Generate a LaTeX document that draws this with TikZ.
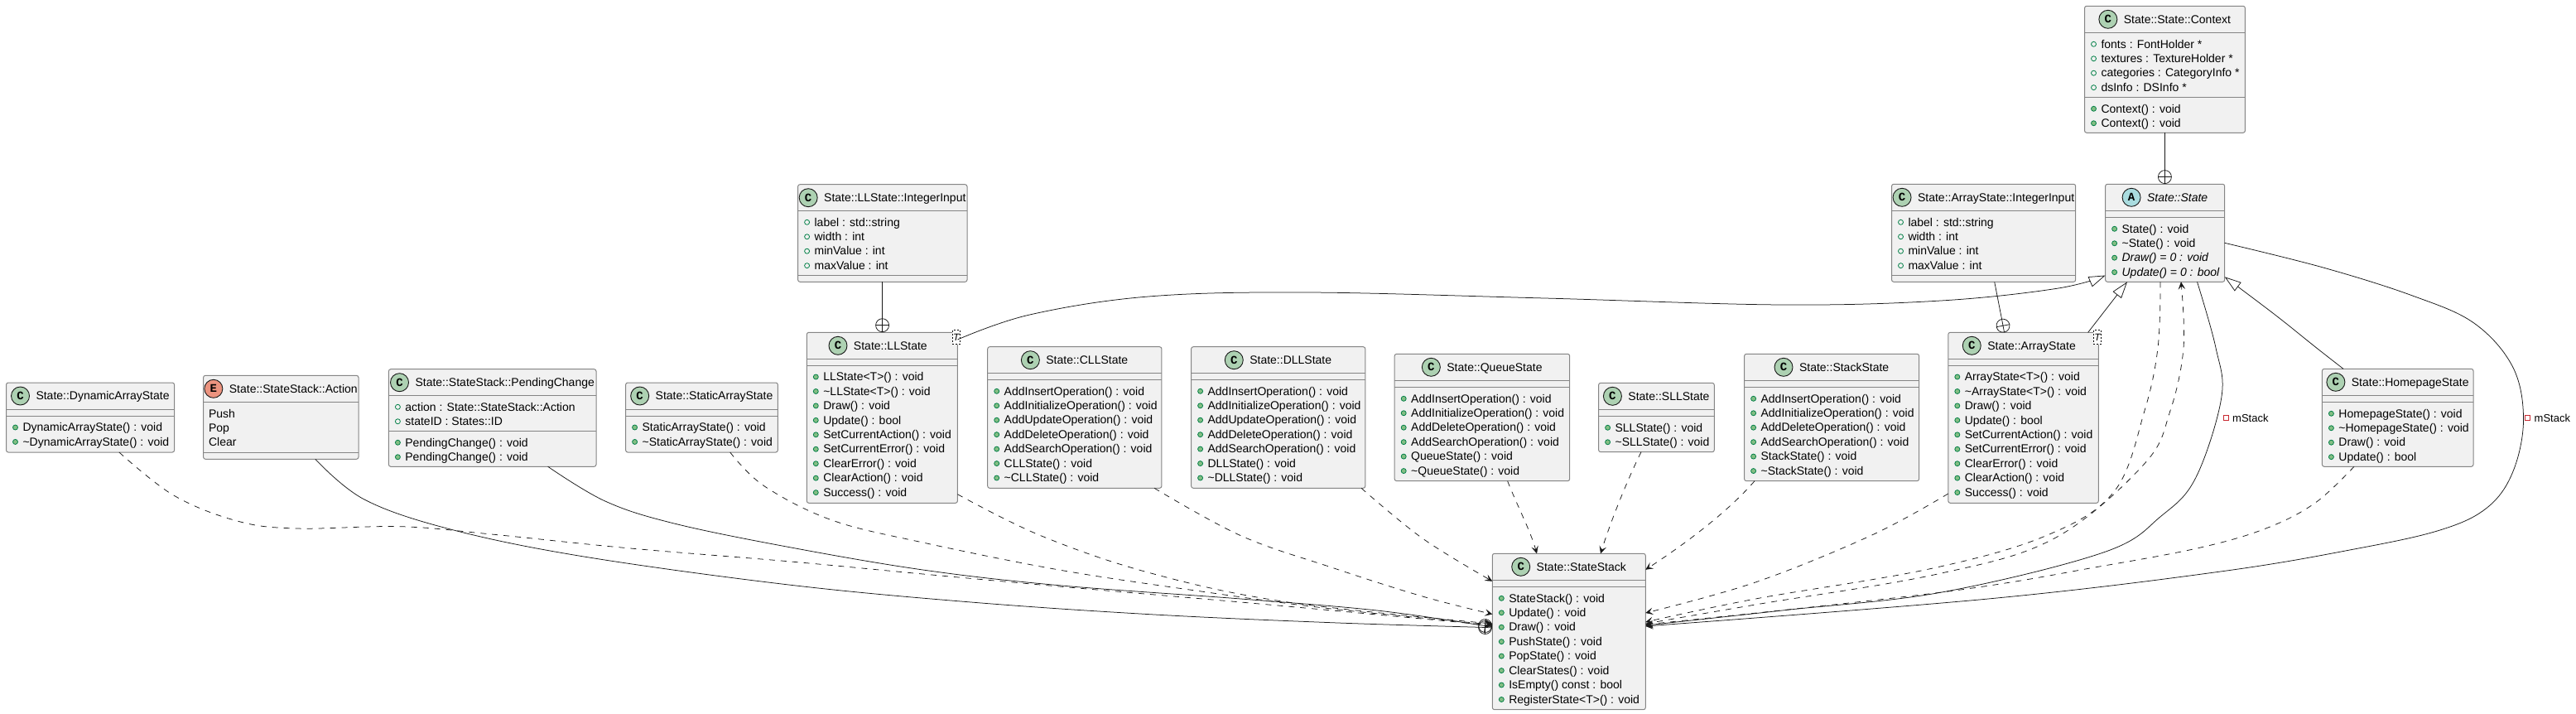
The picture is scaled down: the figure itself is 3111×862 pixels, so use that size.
\documentclass[tikz,border=0pt]{standalone}
\usepackage{fontspec}
\setmainfont{Liberation Sans}
\newfontfamily\spotfont{Liberation Mono}[BoldFont={* Bold}]
\usetikzlibrary{calc,arrows.meta,shapes.misc}
\definecolor{boxfill}{HTML}{F1F1F1}
\definecolor{boxline}{HTML}{858585}
\definecolor{ink}{HTML}{181818}
\definecolor{spotc}{HTML}{ADD1B2}
\definecolor{spota}{HTML}{A9DCDF}
\definecolor{spote}{HTML}{EB937F}
\definecolor{dotg}{HTML}{84BE84}
\definecolor{dotb}{HTML}{038048}
\definecolor{privr}{HTML}{C82930}
\newcommand{\rowfont}{\fontsize{14}{16}\selectfont}
\tikzset{
  classbox/.style={draw=boxline,fill=boxfill,line width=1pt,rounded corners=2.5pt,inner sep=0pt,outer sep=0pt},
  titletext/.style={inner sep=0pt,outer sep=0pt,font=\rowfont,text=black},
  rowtext/.style={inner sep=0pt,outer sep=0pt,font=\rowfont,text=black},
  spot/.style={circle,draw=ink,line width=.9pt,minimum size=22pt,inner sep=0pt,outer sep=0pt,font=\spotfont\bfseries\fontsize{14}{14}\selectfont},
  dotm/.style={circle,draw=dotb,fill=dotg,line width=.8pt,minimum size=6pt,inner sep=0pt},
  dotf/.style={circle,draw=dotb,line width=.8pt,minimum size=6pt,inner sep=0pt},
  tplbox/.style={draw=black,fill=white,dash pattern=on 2pt off 2pt,line width=.5pt,minimum width=9.2pt,minimum height=17.4pt,inner sep=0pt,font=\itshape\fontsize{12}{12}\selectfont},
  nest/.style={circle,draw=ink,line width=.75pt,minimum size=16pt,inner sep=0pt,outer sep=0pt},
  sepline/.style={draw=boxline,line width=1pt},
  conn/.style={draw=ink,line width=.75pt},
  dep/.style={conn,dash pattern=on 7pt off 7pt,-{Stealth[length=9pt,width=8.5pt,inset=4pt,fill=ink,line width=.5pt]}},
  asc/.style={conn,-{Stealth[length=9pt,width=8.5pt,inset=4pt,fill=ink,line width=.5pt]}},
  gen/.style={conn,-{Triangle[open,length=20pt,width=13pt,fill=white]}},
  privsq/.style={draw=privr,line width=.9pt,minimum size=6pt,inner sep=0pt},
  linklabel/.style={inner sep=0pt,font=\fontsize{13}{15}\selectfont,text=black},
}
\newcommand{\umlbox}[9]{%
  \node[classbox,minimum width={(#7-#5)*1pt},minimum height={(#8-#6)*1pt}] (#1) at ({(#5+#7)/2},{(#6+#8)/2}) {};
  \node[titletext,anchor=base] (#1-title) at ({(#5+#7)/2+15+#9},{#6+16+4.7}) {#4};
  \node[spot,fill=#2] (#1-spot) at ($(#1-title.base west)+(-19,-4.7)$) {#3};
}
\newcommand{\seps}[2]{\draw[sepline] (#1.west |- 0,#2) -- (#1.east |- 0,#2);}
\newcommand{\rowsm}[3]{%
  \foreach \rt [count=\ri from 0] in {#3} {%
    \pgfmathsetmacro\ry{#2+\ri*17.45}
    \node[dotm] (#1-md\ri) at ($(#1.west |- 0,\ry)+(11,0)$) {};
    \node[rowtext,anchor=base west] (#1-m\ri) at ($(#1.west |- 0,\ry)+(20,4.7)$) {\rt};
  }}
\newcommand{\rowsf}[3]{%
  \foreach \rt [count=\ri from 0] in {#3} {%
    \pgfmathsetmacro\ry{#2+\ri*17.45}
    \node[dotf] (#1-fd\ri) at ($(#1.west |- 0,\ry)+(11,0)$) {};
    \node[rowtext,anchor=base west] (#1-f\ri) at ($(#1.west |- 0,\ry)+(20,4.7)$) {\rt};
  }}
\newcommand{\rowse}[3]{%
  \foreach \rt [count=\ri from 0] in {#3} {%
    \pgfmathsetmacro\ry{#2+\ri*17.45}
    \node[rowtext,anchor=base west] (#1-e\ri) at ($(#1.west |- 0,\ry)+(6.5,4.7)$) {\rt};
  }}
\newcommand{\plusin}[1]{\draw[conn] (#1.north) -- (#1.south) (#1.east) -- (#1.west);}
\begin{document}
\begin{tikzpicture}[x=1pt,y=-1pt]
\useasboundingbox (0,0) rectangle (3111,862);

\umlbox{dyn}{spotc}{C}{State::DynamicArrayState}{7.5}{462}{210.6}{546}{0}
\seps{dyn}{494}\seps{dyn}{502}
\rowsm{dyn}{516}{DynamicArrayState() : void,\textasciitilde DynamicArrayState() : void}

\umlbox{act}{spote}{E}{State::StateStack::Action}{245.6}{453.3}{433}{554.3}{0}
\seps{act}{485.3}\seps{act}{546.7}
\rowse{act}{499.3}{Push,Pop,Clear}

\umlbox{pend}{spotc}{C}{State::StateStack::PendingChange}{469.4}{445.7}{720}{563.3}{0}
\seps{pend}{477.3}\seps{pend}{520.3}
\rowsf{pend}{491.3}{action : State::StateStack::Action,stateID : States::ID}
\rowsm{pend}{534.3}{PendingChange() : void,PendingChange() : void}

\umlbox{stat}{spotc}{C}{State::StaticArrayState}{755.6}{462}{939.4}{546}{0}
\seps{stat}{494}\seps{stat}{502}
\rowsm{stat}{516}{StaticArrayState() : void,\textasciitilde StaticArrayState() : void}

\umlbox{lli}{spotc}{C}{State::LLState::IntegerInput}{963.6}{222.7}{1168}{340.3}{0}
\seps{lli}{254.3}\seps{lli}{332.3}
\rowsf{lli}{268.3}{label : std::string,width : int,minValue : int,maxValue : int}

\umlbox{ll}{spotc}{C}{State::LLState}{974.3}{401.3}{1156.4}{607.3}{-5}
\seps{ll}{433.3}\seps{ll}{441.3}
\rowsm{ll}{455}{LLState<T>() : void,\textasciitilde LLState<T>() : void,Draw() : void,Update() : bool,SetCurrentAction() : void,SetCurrentError() : void,ClearError() : void,ClearAction() : void,Success() : void}
\node[tplbox] (ll-tpl) at (1154.9,407) {T};

\umlbox{cll}{spotc}{C}{State::CLLState}{1192.7}{418.7}{1402.9}{589.3}{0}
\seps{cll}{450.3}\seps{cll}{458.3}
\rowsm{cll}{472.3}{AddInsertOperation() : void,AddInitializeOperation() : void,AddUpdateOperation() : void,AddDeleteOperation() : void,AddSearchOperation() : void,CLLState() : void,\textasciitilde CLLState() : void}

\umlbox{dll}{spotc}{C}{State::DLLState}{1438.6}{418.7}{1648.8}{589.3}{0}
\seps{dll}{450.3}\seps{dll}{458.3}
\rowsm{dll}{472.3}{AddInsertOperation() : void,AddInitializeOperation() : void,AddUpdateOperation() : void,AddDeleteOperation() : void,AddSearchOperation() : void,DLLState() : void,\textasciitilde DLLState() : void}

\umlbox{queue}{spotc}{C}{State::QueueState}{1684.2}{427.3}{1895.7}{580.7}{0}
\seps{queue}{459.3}\seps{queue}{467.3}
\rowsm{queue}{481.3}{AddInsertOperation() : void,AddInitializeOperation() : void,AddDeleteOperation() : void,AddSearchOperation() : void,QueueState() : void,\textasciitilde QueueState() : void}

\umlbox{sll}{spotc}{C}{State::SLLState}{1930.6}{462.3}{2070.3}{545.7}{0}
\seps{sll}{494.3}\seps{sll}{502.3}
\rowsm{sll}{516.3}{SLLState() : void,\textasciitilde SLLState() : void}

\umlbox{stk}{spotc}{C}{State::StackState}{2106.6}{427.3}{2317.6}{580.7}{0}
\seps{stk}{459.3}\seps{stk}{467.3}
\rowsm{stk}{481.3}{AddInsertOperation() : void,AddInitializeOperation() : void,AddDeleteOperation() : void,AddSearchOperation() : void,StackState() : void,\textasciitilde StackState() : void}

\umlbox{arr}{spotc}{C}{State::ArrayState}{2352.8}{401.3}{2534.3}{607.3}{-5}
\seps{arr}{433.3}\seps{arr}{441.3}
\rowsm{arr}{455}{ArrayState<T>() : void,\textasciitilde ArrayState<T>() : void,Draw() : void,Update() : bool,SetCurrentAction() : void,SetCurrentError() : void,ClearError() : void,ClearAction() : void,Success() : void}
\node[tplbox] (arr-tpl) at (2533,407) {T};

\umlbox{home}{spotc}{C}{State::HomepageState}{2804.4}{445.3}{2987}{563.3}{0}
\seps{home}{477.3}\seps{home}{485.3}
\rowsm{home}{499.3}{HomepageState() : void,\textasciitilde HomepageState() : void,Draw() : void,Update() : bool}

\umlbox{ctx}{spotc}{C}{State::State::Context}{2517.5}{7.3}{2711.4}{160.3}{0}
\seps{ctx}{39.3}\seps{ctx}{117.3}
\rowsf{ctx}{53.3}{fonts : FontHolder *,textures : TextureHolder *,categories : CategoryInfo *,dsInfo : DSInfo *}
\rowsm{ctx}{131.3}{Context() : void,Context() : void}

\umlbox{state}{spota}{A}{\itshape State::State}{2542.6}{222.3}{2686.7}{340.3}{0}
\seps{state}{254.3}\seps{state}{262.3}
\rowsm{state}{276.3}{State() : void,\textasciitilde State() : void,{\itshape Draw() = 0 : void},{\itshape Update() = 0 : bool}}

\umlbox{aii}{spotc}{C}{State::ArrayState::IntegerInput}{2284.5}{222.3}{2506.7}{340.3}{0}
\seps{aii}{254.3}\seps{aii}{332.3}
\rowsf{aii}{268.3}{label : std::string,width : int,minValue : int,maxValue : int}

\umlbox{ss}{spotc}{C}{State::StateStack}{1802.3}{668.3}{1987.3}{856.7}{0}
\seps{ss}{700.7}\seps{ss}{708.3}
\rowsm{ss}{722.3}{StateStack() : void,Update() : void,Draw() : void,PushState() : void,PopState() : void,ClearStates() : void,IsEmpty() const : bool,RegisterState<T>() : void}

% nesting circles
\node[nest] (n-ll) at (1065.6,392.7) {};
\node[nest] (n-ctx) at (2614.4,213.6) {};
\node[nest,rotate=10.7] (n-arr) at (2419,393.2) {};
\node[nest,rotate=-8] (n-pend) at (1793.6,755.5) {};
\node[nest,rotate=-2] (n-act) at (1793.6,757.5) {};
\plusin{n-ll}\plusin{n-ctx}\plusin{n-arr}\plusin{n-pend}\plusin{n-act}
\draw[conn] (1065.6,0 |- lli.south) -- (n-ll.north);
\draw[conn] (2614.4,0 |- ctx.south) -- (n-ctx.north);
\draw[conn] (2408.7,0 |- aii.south) -- (n-arr.north);

% left side
\draw[dep] plot[smooth,tension=.6] coordinates {(143.9,0 |- dyn.south) (209.7,598) (286.5,629) (357.8,638) (484,635.7) (593.7,645) (758,661.7) (955,678) (1114.6,693) (1279,708) (1498.5,727) (1663,742) (ss.west |- 0,755)};
\draw[conn] plot[smooth,tension=.6] coordinates {(380.8,0 |- act.south) (440,603) (544,639) (703.4,671.7) (950,705.7) (1169,726.7) (1389,741.7) (1608,751.7) (n-act.west)};
\draw[conn] plot[smooth,tension=.6] coordinates {(661.7,0 |- pend.south) (730.8,605) (813,631.7) (950,660) (1114.6,688) (1279,706.7) (1498.5,723) (1663,737) (n-pend.west)};
\draw[dep] plot[smooth,tension=.6] coordinates {(881.7,0 |- stat.south) (922.8,586.7) (1004.8,628) (1114.6,655) (1279,688) (1443.7,713) (1608,735) (ss.west |- 0,754)};
\draw[dep] plot[smooth,tension=.6] coordinates {(ll.east |- 0,596.7) (1257,646.7) (1388.8,691.7) (1553.4,726.7) (ss.west |- 0,753)};
\draw[dep] plot[smooth,tension=.6] coordinates {(1394,0 |- cll.south) (1498.5,646.7) (1608,685) (1718,720) (ss.west |- 0,741.5)};
\draw[dep] plot[smooth,tension=.6] coordinates {(1644,0 |- dll.south) (1718,650) (ss.west |- 0,701.7)};
\draw[dep] (1820.6,0 |- queue.south) .. controls (1832,610) and (1848,640) .. (1856,0 |- ss.north);
\draw[dep] (1982,0 |- sll.south) .. controls (1965,580) and (1945,630) .. (1933,0 |- ss.north);
\draw[dep] (2119,0 |- stk.south) .. controls (2085,620) and (2030,660) .. (ss.east |- 0,687.7);

% right side
\draw[dep] plot[smooth,tension=.6] coordinates {(arr.west |- 0,596) (2260.7,646) (2120,703) (ss.east |- 0,740)};
\draw[dep] plot[smooth,tension=.6] coordinates {(2609,0 |- state.south) (2606,420) (2589.7,496.7) (2553.5,593) (2471,646.7) (2331,686.7) (2120,723) (ss.east |- 0,751)};
\draw[dep] plot[smooth,tension=.6] coordinates {(ss.east |- 0,753) (2120,730) (2340,693) (2481,650) (2589.7,560) (2620.7,496.7) (2637,420) (2634,0 |- state.south)};
\draw[asc] plot[smooth,tension=.6] coordinates {(2653.5,0 |- state.south) (2676,420) (2682.8,480) (2651.8,576.7) (2610,623) (2541,666.7) (2345,715) (2155,736.7) (ss.east |- 0,755)};
\draw[asc] plot[smooth,tension=.6] coordinates {(state.east |- 0,293.3) (2805.6,323) (2912.7,356.7) (2987.7,390) (3034.6,443) (3047.5,506.7) (3034.6,570) (3003.5,613) (2946.7,640) (2843,663) (2681.7,690) (2401,723) (ss.east |- 0,756)};
\draw[dep] plot[smooth,tension=.6] coordinates {(2843,0 |- home.south) (2796.6,606.7) (2739.7,636.7) (2662,660) (2541,683) (2345,715) (ss.east |- 0,754)};

% generalisation
\draw[gen] plot[smooth,tension=.6] coordinates {(ll.east |- 0,410) (1243.5,380) (1387,358) (1578.5,353) (1865.5,360) (2152.6,368) (2344,363) (2484,348.3) (state.west |- 0,332.5)};
\draw[gen] (2521.7,0 |- arr.north) -- (2569,0 |- state.south);
\draw[gen] plot[smooth,tension=.6] coordinates {(2830,0 |- home.north) (2797.6,420) (2747.5,380) (state.east |- 0,334.3)};

% link labels
\node[linklabel,anchor=base west] (lab1) at (2696,509) {mStack};
\node[privsq] (lab1sq) at (2688.5,504.7) {};
\node[linklabel,anchor=base west] (lab2) at (3060.5,509) {mStack};
\node[privsq] (lab2sq) at (3052.7,504.7) {};
\end{tikzpicture}
\end{document}
